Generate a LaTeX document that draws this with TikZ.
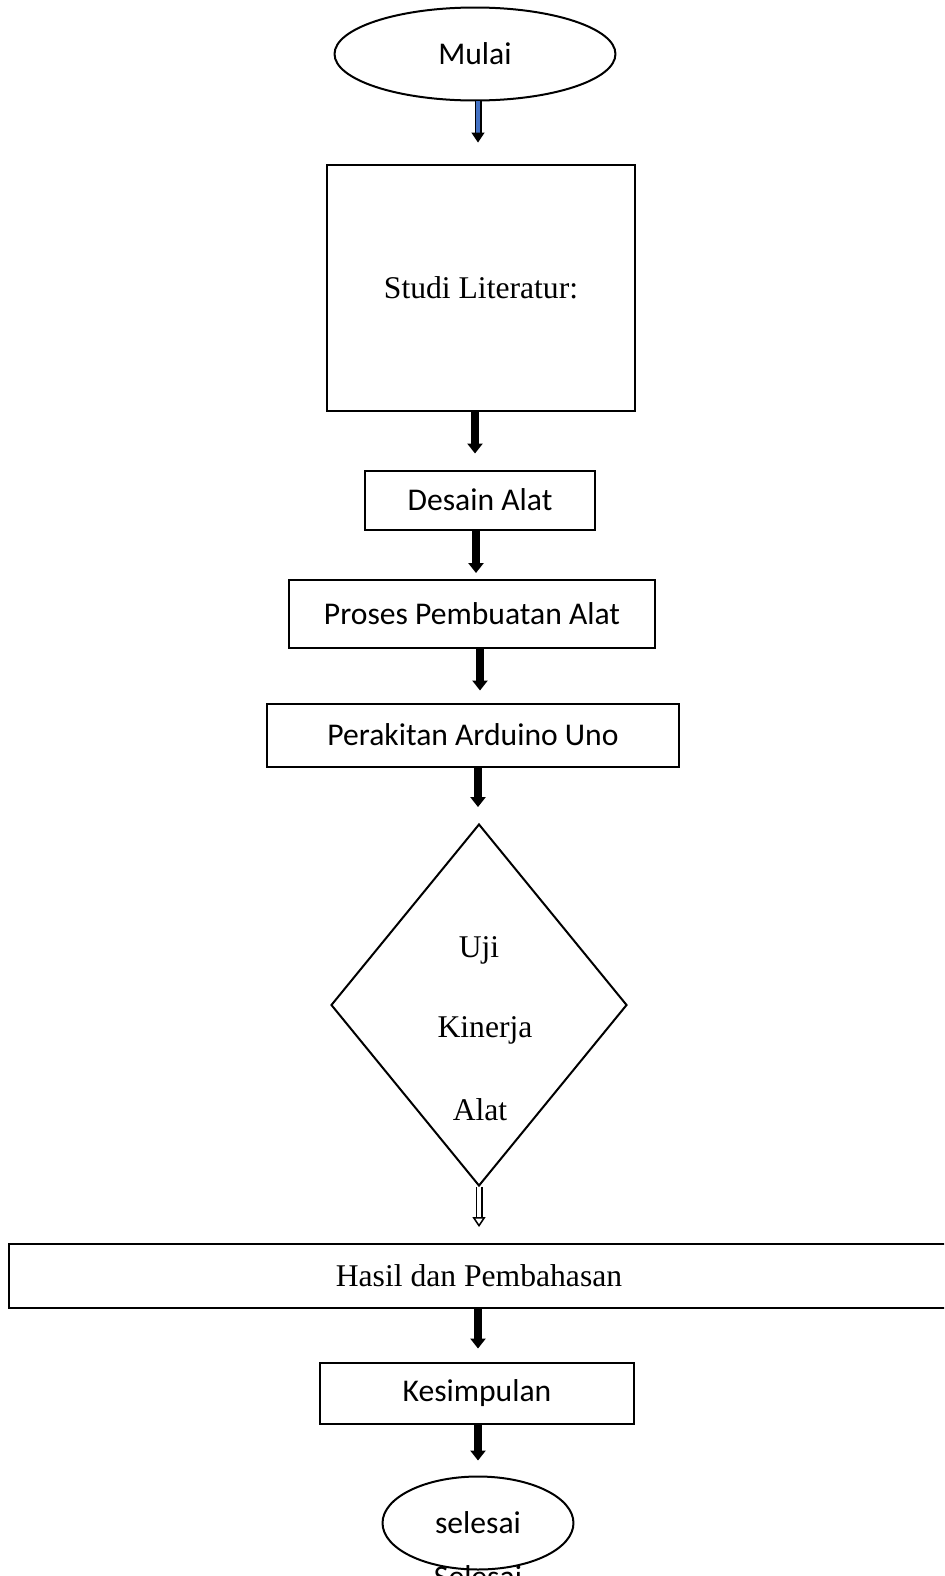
\documentclass[tikz,border=0pt]{standalone}
\usepackage{fontspec}
\setmainfont{Carlito}
\newfontfamily\timesfont{Liberation Serif}
\usetikzlibrary{shapes.geometric,arrows.meta}
\definecolor{panahbiru}{RGB}{68,114,196}

\begin{document}
\begin{tikzpicture}[x=0.02cm, y=-0.02cm, font=\fontsize{18}{22}\selectfont,
  kotak/.style={draw, line width=0.04cm, inner sep=0},
  oval/.style={draw, ellipse, line width=0.04cm, inner sep=0},
  blok/.style={line width=0.16cm, -{Triangle[width=0.3cm, length=0.2cm]}}]
  \useasboundingbox (0,0) rectangle (944,1576);
  \clip (0,0) rectangle (944,1576);

  \node[oval, minimum width=5.62cm, minimum height=1.86cm] (mulai) at (475,54) {Mulai};
  \node[kotak, minimum width=6.16cm, minimum height=4.94cm, font=\timesfont\fontsize{18}{22}\selectfont] (studi) at (481,288) {Studi Literatur:};
  \node[kotak, minimum width=4.6cm, minimum height=1.18cm] (desain) at (480,500) {Desain Alat};
  \node[kotak, minimum width=7.34cm, minimum height=1.36cm] (proses) at (472,614) {Proses Pembuatan Alat};
  \node[kotak, minimum width=8.24cm, minimum height=1.26cm] (rakit) at (473,735) {Perakitan Arduino Uno};
  \node[draw, diamond, line width=0.04cm, inner sep=0, minimum width=5.92cm, minimum height=7.24cm] (uji) at (479,1005) {};
  \node[font=\timesfont\fontsize{18}{22}\selectfont] (uji1) at (479,950) {Uji};
  \node[font=\timesfont\fontsize{18}{22}\selectfont] (uji2) at (485,1030) {Kinerja};
  \node[font=\timesfont\fontsize{18}{22}\selectfont] (uji3) at (480,1110) {Alat};
  \node[kotak, minimum width=18.82cm, minimum height=1.28cm, font=\timesfont\fontsize{18}{22}\selectfont] (hasil) at (479,1276) {Hasil dan Pembahasan};
  \node[kotak, minimum width=6.3cm, minimum height=1.22cm] (simpul) at (477,1393) {Kesimpulan};
  \node[oval, minimum width=3.82cm, minimum height=1.86cm] (selesai) at (478,1523) {selesai};
  \node[anchor=base] (selesai2) at (478,1587) {Selesai};

  % panah
  \draw[line width=0.03cm, double=panahbiru, double distance=0.08cm, -{Triangle[width=0.26cm, length=0.2cm]}, shorten >=0.42cm]
    (mulai.south -| 478,0) -- (478,0 |- studi.north);
  \foreach \a/\b/\x/\s in {studi/desain/475/0.32, desain/proses/476/0.12, proses/rakit/480/0.24, rakit/uji/478/0.32, hasil/simpul/478/0.26, simpul/selesai/478/0.3}
    \draw[blok, shorten >=\s cm] (\a.south -| \x,0) -- (\x,0 |- \b.north);
  \draw[line width=0.03cm, double=white, double distance=0.08cm, -{Triangle[open, width=0.26cm, length=0.2cm]}, shorten >=0.32cm]
    (uji.south) -- (uji.south |- hasil.north);
\end{tikzpicture}
\end{document}
